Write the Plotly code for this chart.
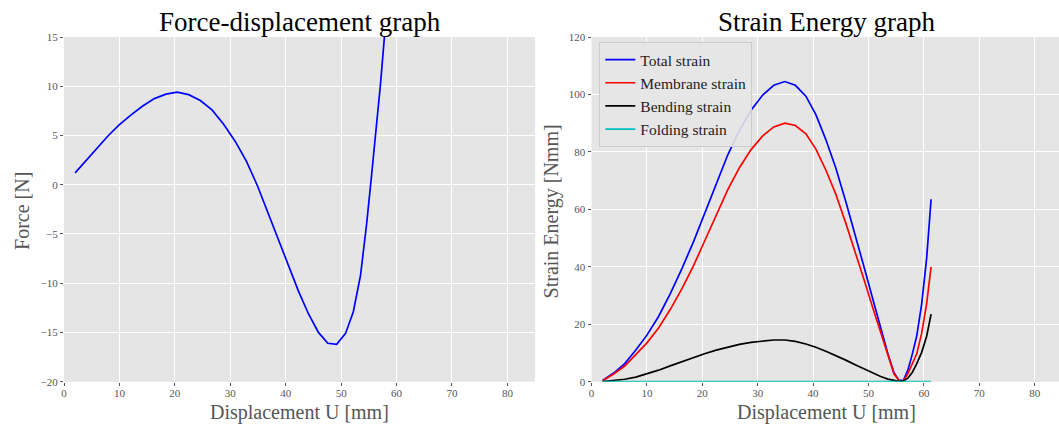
import plotly.graph_objects as go

# Displacement steps of the snap-through analysis [mm]
displacement = [2.0, 4.0, 6.0, 8.0, 10.0, 12.1, 14.2, 16.3, 18.4, 20.4, 22.5, 24.6,
                26.7, 28.8, 30.9, 32.9, 34.9, 36.8, 38.7, 40.5, 42.3, 44.1, 45.9,
                47.6, 49.2, 50.8, 52.2, 53.5, 54.6, 55.5, 56.3, 57.1, 57.9, 58.7,
                59.6, 60.5, 61.3]

# Reaction force [N]
force = [1.2, 2.5, 3.8, 5.0, 6.1, 7.1, 8.0, 8.75, 9.2, 9.4, 9.15, 8.55,
         7.6, 6.15, 4.4, 2.4, -0.1, -2.8, -5.5, -8.1, -10.8, -13.1, -15.0,
         -16.1, -16.2, -15.1, -12.9, -9.2, -4.0, 1.0, 5.5, 10.2, 15.6, 21.0,
         28.0, 36.0, 45.0]

# Strain energy components [Nmm]
total_strain = [0.4, 3.0, 6.3, 11.0, 16.2, 22.7, 30.6, 39.3, 48.7, 58.6, 69.2, 79.0,
                87.5, 94.5, 99.8, 103.2, 104.5, 103.2, 99.4, 93.0, 84.3, 74.4, 62.7,
                51.2, 39.9, 28.6, 18.9, 9.7, 3.1, 0.5, 0.4, 4.0, 9.5, 15.8,
                27.0, 43.0, 63.5]
membrane_strain = [0.35, 2.65, 5.45, 9.4, 13.5, 18.7, 25.1, 32.3, 40.3, 48.9, 58.2, 66.9,
                   74.5, 80.8, 85.6, 88.7, 90.0, 89.2, 86.3, 81.0, 73.7, 65.3, 55.2,
                   45.3, 35.5, 25.6, 17.1, 8.8, 2.75, 0.4, 0.15, 2.8, 6.3, 9.6,
                   16.8, 27.2, 40.0]
bending_strain = [0.05, 0.35, 0.85, 1.6, 2.7, 4.0, 5.5, 7.0, 8.4, 9.7, 11.0, 12.1,
                  13.0, 13.7, 14.2, 14.5, 14.5, 14.0, 13.1, 12.0, 10.6, 9.1, 7.5,
                  5.9, 4.4, 3.0, 1.8, 0.9, 0.35, 0.1, 0.25, 1.2, 3.2, 6.2,
                  10.2, 15.8, 23.5]
folding_strain = [0.0, 0.0, 0.0, 0.0, 0.0, 0.0, 0.0, 0.0, 0.0, 0.0, 0.0, 0.0,
                  0.0, 0.0, 0.0, 0.0, 0.0, 0.0, 0.0, 0.0, 0.0, 0.0, 0.0,
                  0.0, 0.0, 0.0, 0.0, 0.0, 0.0, 0.0, 0.0, 0.0, 0.0, 0.0,
                  0.0, 0.0, 0.0]

SERIF = "Liberation Serif"
GREY = "#555555"
LW = 1.7
W, H = 1059, 425


def px_x(x):
    """Horizontal pixel position -> paper fraction."""
    return x / W


def px_y(y):
    """Vertical pixel position (from top) -> paper fraction."""
    y_adj = 212.5 + (y - 212.5) / 0.972
    return 1 - y_adj / H


fig = go.Figure()

fig.add_trace(go.Scatter(x=displacement, y=force, mode="lines",
                         line=dict(color="#0000FF", width=LW),
                         showlegend=False, xaxis="x", yaxis="y"))

energy_series = [
    ("Total strain", total_strain, "#0000FF"),
    ("Membrane strain", membrane_strain, "#FF0000"),
    ("Bending strain", bending_strain, "#000000"),
    ("Folding strain", folding_strain, "#00BFBF"),
]
for name, values, color in energy_series:
    fig.add_trace(go.Scatter(x=displacement, y=values, mode="lines", name=name,
                             line=dict(color=color, width=LW),
                             xaxis="x2", yaxis="y2"))

left_x = [px_x(61.2), px_x(533.6)]
right_x = [px_x(590.2), 1.0]
plot_y = [px_y(381.7), px_y(37.0)]

axis_common = dict(
    showgrid=True, gridcolor="white", gridwidth=1.3,
    zeroline=False, showline=False,
    ticks="outside", ticklen=3, tickwidth=1, tickcolor=GREY,
    tickfont=dict(family=SERIF, size=11, color=GREY),
    fixedrange=True,
)
x_common = dict(axis_common, ticklabelstandoff=-2)

fig.update_layout(
    width=W, height=H,
    margin=dict(l=0, r=0, t=0, b=0),
    paper_bgcolor="white",
    plot_bgcolor="#E5E5E5",
    xaxis=dict(domain=left_x, range=[0, 85], tick0=0, dtick=10, anchor="y", **x_common),
    yaxis=dict(domain=plot_y, range=[-20, 15], tick0=0, dtick=5, anchor="x", **axis_common),
    xaxis2=dict(domain=right_x, range=[0, (W - 590.2) / 5.555], tick0=0, dtick=10,
                anchor="y2", **x_common),
    yaxis2=dict(domain=plot_y, range=[0, 120], tick0=0, dtick=20, anchor="x2", **axis_common),
    legend=dict(
        x=px_x(598), y=px_y(42), xanchor="left", yanchor="top",
        bgcolor="rgba(229,229,229,0.9)", bordercolor="#CCCCCC", borderwidth=1,
        font=dict(family=SERIF, size=15.5, color="#222222"),
    ),
    showlegend=True,
)

annotations = [
    dict(text="Force-displacement graph", x=px_x(297.4), y=px_y(22),
         font=dict(family=SERIF, size=27, color="black")),
    dict(text="Strain Energy graph", x=px_x(825.5), y=px_y(22),
         font=dict(family=SERIF, size=27, color="black")),
    dict(text="Displacement U [mm]", x=px_x(297.4), y=px_y(413),
         font=dict(family=SERIF, size=20, color=GREY)),
    dict(text="Displacement U [mm]", x=px_x(825.5), y=px_y(413),
         font=dict(family=SERIF, size=20, color=GREY)),
    dict(text="Force [N]", x=px_x(19), y=px_y(211), textangle=-90,
         font=dict(family=SERIF, size=20, color=GREY)),
    dict(text="Strain Energy [Nmm]", x=px_x(550), y=px_y(211), textangle=-90,
         font=dict(family=SERIF, size=20, color=GREY)),
]
for a in annotations:
    a.update(xref="paper", yref="paper", xanchor="center", yanchor="middle",
             showarrow=False, borderpad=0)
fig.update_layout(annotations=annotations)

fig.write_html("out.html")
